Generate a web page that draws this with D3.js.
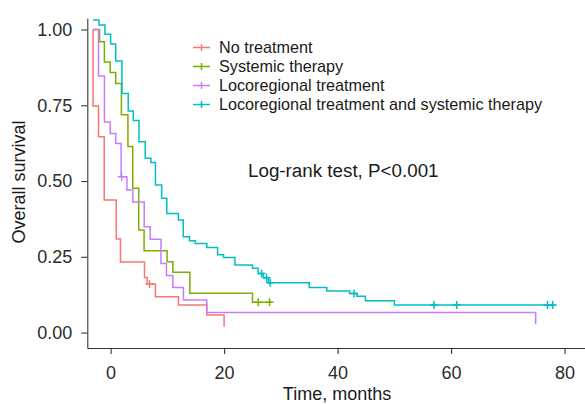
<!DOCTYPE html>
<html>
<head>
<meta charset="utf-8">
<script src="https://cdn.jsdelivr.net/npm/d3@7"></script>
<style>
  body { margin: 0; background: #fff; }
  svg { display: block; font-family: "Liberation Sans", Arial, Helvetica, sans-serif; }
  .axis path, .axis line { stroke: #333; stroke-width: 1.1; }
  .axis text { fill: #2b2b2b; font-size: 18px; }
</style>
</head>
<body>
<svg id="svg" width="585" height="404"></svg>
<script>
// group names and colours
var groups = ["No treatment", "Systemic therapy", "Locoregional treatment", "Locoregional treatment and systemic therapy"]
var colors = ["#F8766D", "#7CAE00", "#C77CFF", "#00BFC4"]

// Kaplan-Meier steps (time in months, survival)
var noTxTime = [-3.1, -3.1, -2.13, -1.13, 0.99, 1.74, 5.97, 6.44, 7.9, 11.95, 16.95, 20.0]
var noTxSurv = [1.0, 0.748, 0.646, 0.437, 0.309, 0.233, 0.182, 0.160, 0.118, 0.091, 0.058, 0.019]
var noTxCensor = [6.85]

var sysTime = [-3.1, -1.95, -1.1, -0.07, 0.9, 1.9, 3.05, 3.9, 4.95, 5.9, 9.95, 10.97, 13.96, 25.0, 28.45]
var sysSurv = [1.0, 0.960, 0.893, 0.858, 0.822, 0.719, 0.614, 0.476, 0.338, 0.270, 0.234, 0.199, 0.130, 0.100, 0.100]
var sysCensor = [26.0, 28.0]

var locoTime = [-3.1, -2.13, -1.09, -0.07, 0.9, 1.85, 2.87, 3.93, 5.92, 6.97, 8.87, 9.84, 10.97, 12.83, 16.95, 74.9]
var locoSurv = [1.0, 0.847, 0.695, 0.657, 0.624, 0.514, 0.470, 0.431, 0.349, 0.308, 0.228, 0.188, 0.149, 0.107, 0.066, 0.027]
var locoCensor = [1.95]

var bothTime = [-3.1, -2.04, -1.0, 0.0, 0.9, 2.0, 3.1, 4.0, 5.0, 6.1, 7.1, 7.9, 9.0, 9.9, 11.95, 12.8, 13.9, 14.9, 16.95, 18.85, 19.9, 21.9, 25.0, 26.0, 26.9, 27.8, 35.0, 38.1, 42.1, 43.4, 44.9, 50.0, 78.3]
var bothSurv = [1.031, 1.015, 0.984, 0.952, 0.896, 0.789, 0.731, 0.700, 0.630, 0.575, 0.561, 0.487, 0.443, 0.393, 0.371, 0.316, 0.303, 0.294, 0.281, 0.257, 0.248, 0.223, 0.212, 0.195, 0.181, 0.164, 0.149, 0.137, 0.129, 0.120, 0.105, 0.091, 0.091]
var bothCensor = [26.6, 27.5, 28.1, 42.9, 57.0, 61.0, 77.0, 77.9]

var xTicks = [0, 20, 40, 60, 80]
var yTicks = [0, 0.25, 0.5, 0.75, 1]

var series = [
  {name: groups[0], time: noTxTime, surv: noTxSurv, censor: noTxCensor},
  {name: groups[1], time: sysTime, surv: sysSurv, censor: sysCensor},
  {name: groups[2], time: locoTime, surv: locoSurv, censor: locoCensor},
  {name: groups[3], time: bothTime, surv: bothSurv, censor: bothCensor}
]

var svg = d3.select("svg")

var x = d3.scaleLinear().domain([-4.11, 83.6]).range([87.3, 585])
var y = d3.scaleLinear().domain([-0.051, 1.038]).range([348, 18])

// axes
svg.append("g")
  .attr("class", "axis")
  .attr("transform", "translate(87.3,0)")
  .call(d3.axisLeft(y).tickValues(yTicks).tickFormat(d3.format(".2f")).tickSize(6).tickSizeOuter(0).tickPadding(9))

svg.append("g")
  .attr("class", "axis")
  .attr("transform", "translate(0,348)")
  .call(d3.axisBottom(x).tickValues(xTicks).tickSize(6).tickSizeOuter(0).tickPadding(12))

svg.selectAll(".axis .domain").attr("stroke", "#333")

// survival at a given time (step function)
function survAt(s, t) {
  var i = d3.bisectRight(s.time, t) - 1
  return s.surv[Math.max(i, 0)]
}

var line = d3.line()
  .x(function(d) { return x(d[0]) })
  .y(function(d) { return y(d[1]) })
  .curve(d3.curveStepAfter)

var curves = svg.append("g")
series.forEach(function(s, k) {
  var pts = s.time.map(function(t, i) { return [t, s.surv[i]] })
  var g = curves.append("g")
  g.append("path")
    .attr("d", line(pts))
    .attr("fill", "none")
    .attr("stroke", colors[k])
    .attr("stroke-width", 1.5)

  // censor marks
  g.selectAll("path.censor")
    .data(s.censor)
    .enter().append("path")
    .attr("class", "censor")
    .attr("d", function(t) {
      var cx = x(t), cy = y(survAt(s, t))
      return "M" + (cx - 4) + "," + cy + "H" + (cx + 4) + "M" + cx + "," + (cy - 4) + "V" + (cy + 4)
    })
    .attr("stroke", colors[k])
    .attr("stroke-width", 1.5)
})

// legend
var legend = svg.append("g")
  .selectAll("g")
  .data(groups)
  .enter().append("g")
  .attr("transform", function(d, i) { return "translate(0," + (47.5 + i * 19) + ")" })

legend.append("path")
  .attr("d", "M193,0H210M201.5,-3.5V3.5")
  .attr("stroke", function(d, i) { return colors[i] })
  .attr("stroke-width", 1.5)

legend.append("text")
  .attr("x", 219)
  .attr("dy", "0.35em")
  .attr("font-size", "16.2px")
  .attr("fill", "#1a1a1a")
  .text(function(d) { return d })

svg.append("text")
  .attr("x", 248)
  .attr("y", 170)
  .attr("dy", "0.35em")
  .attr("font-size", "18.8px")
  .attr("fill", "#1a1a1a")
  .text("Log-rank test, P<0.001")

// axis titles
svg.append("text")
  .attr("x", 337)
  .attr("y", 394)
  .attr("dy", "0.35em")
  .attr("text-anchor", "middle")
  .attr("font-size", "18px")
  .attr("fill", "#1a1a1a")
  .text("Time, months")

svg.append("text")
  .attr("transform", "translate(19,182) rotate(-90)")
  .attr("dy", "0.35em")
  .attr("text-anchor", "middle")
  .attr("font-size", "18px")
  .attr("fill", "#1a1a1a")
  .text("Overall survival")
</script>
</body>
</html>
